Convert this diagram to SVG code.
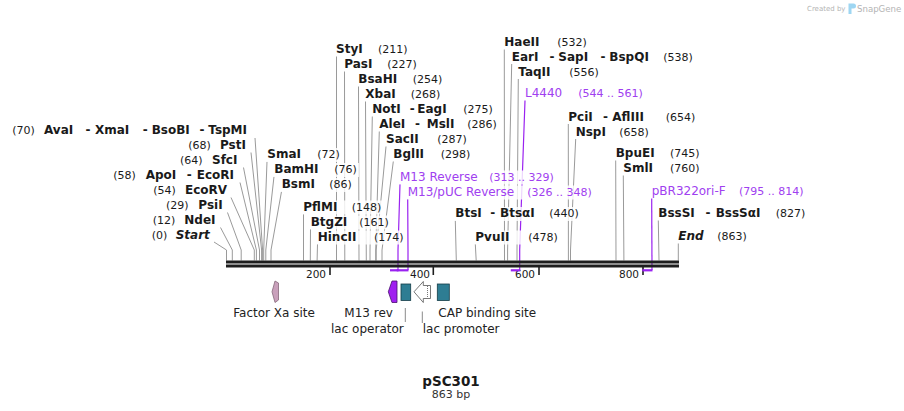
<svg xmlns="http://www.w3.org/2000/svg" width="904" height="411" viewBox="0 0 904 411">
<style>
text{font-family:"DejaVu Sans","Liberation Sans",sans-serif;fill:#1a1a1a}
.n{font-size:12px;font-weight:bold}
.s{font-size:12px;font-weight:bold;font-style:italic}
.d{font-size:12px;font-weight:bold}
.p{font-size:11px}
.pr{font-size:12px;fill:#a040f0}
.prn{font-size:11px;fill:#a040f0}
.f{font-size:12px;fill:#222}
.t{font-size:10.5px}
.ln{fill:none;stroke:#9a9a9a;stroke-width:1}
.pl{fill:none;stroke:#9a22f0;stroke-width:1.2}
.bar{fill:#9a22f0}
.bg{fill:#fff;fill-opacity:0.82}
.dna{fill:#1e1e1e}
.tick{stroke:#1e1e1e;stroke-width:1.6}
.fl{stroke:#8a8a8a;stroke-width:1}
</style>

<!-- watermark -->
<g id="watermark">
<text x="807" y="11" style="font-size:7px;fill:#b4b4b4">Created by</text>
<path d="M848.5,3.5 h5 a2.5,2.5 0 0 1 0,5 h-2 v5.5 h-3 z" fill="#9ed6f2"/>
<text x="857" y="12" style="font-size:8.6px;fill:#b4b4b4">SnapGene</text>
</g>

<!-- connectors -->
<g id="connectors">
<polyline class="ln" points="255,138 262.6,250 262.6,260.5"/>
<polyline class="ln" points="251,152.5 261.6,250 261.6,260.5"/>
<polyline class="ln" points="243.5,167.5 259.5,250 259.5,260.5"/>
<polyline class="ln" points="240,182.5 256.4,250 256.4,260.5"/>
<polyline class="ln" points="231,197.5 254.3,250 254.3,260.5"/>
<polyline class="ln" points="227.5,212.5 241.2,250 241.2,260.5"/>
<polyline class="ln" points="220.5,227.5 232.3,250 232.3,260.5"/>
<polyline class="ln" points="214,242 226.5,250 226.5,260.5"/>
<polyline class="ln" points="267,161.5 263.7,250 263.7,260.5"/>
<polyline class="ln" points="274,176.5 265.8,250 265.8,260.5"/>
<polyline class="ln" points="281.5,191.5 271,250 271,260.5"/>
<polyline class="ln" points="303.5,214 303.5,260.5"/>
<polyline class="ln" points="310.5,229 310.3,260.5"/>
<polyline class="ln" points="317.5,244 317.1,260.5"/>
<polyline class="ln" points="336.5,56.5 336.5,260.5"/>
<polyline class="ln" points="344.5,71.5 344.8,260.5"/>
<polyline class="ln" points="358.5,86.5 359,260.5"/>
<polyline class="ln" points="365.5,101.5 366.3,260.5"/>
<polyline class="ln" points="372.3,116.5 370,250 370,260.5"/>
<polyline class="ln" points="379.3,131.5 375.7,250 375.7,260.5"/>
<polyline class="ln" points="386,146.5 376.2,250 376.2,260.5"/>
<polyline class="ln" points="393.3,161.5 382,250 382,260.5"/>
<polyline class="ln" points="504.3,49.5 504.5,260.5"/>
<polyline class="ln" points="511.7,64 507.6,250 507.6,260.5"/>
<polyline class="ln" points="518.3,79 517,250 517,260.5"/>
<polyline class="ln" points="568.3,124 568.4,260.5"/>
<polyline class="ln" points="575.7,139 570.5,250 570.5,260.5"/>
<polyline class="ln" points="615.7,160.5 616,260.5"/>
<polyline class="ln" points="623.3,175.5 623.9,260.5"/>
<polyline class="ln" points="455.3,220.5 456.3,260.5"/>
<polyline class="ln" points="475.3,244 476.2,260.5"/>
<polyline class="ln" points="658.3,220.5 659,260.5"/>
<polyline class="ln" points="678.3,243.5 678.3,260.5"/>
<polyline class="pl" points="400,184 398,250 398,270"/>
<polyline class="pl" points="407.7,199 408,250 408,270"/>
<polyline class="pl" points="525,100.5 519.7,250 519.7,270"/>
<polyline class="pl" points="651.7,198.5 652,270"/>
<line class="fl" x1="405.3" y1="308" x2="405.3" y2="322"/>
<line class="fl" x1="422.3" y1="311.5" x2="422.3" y2="323"/>
</g>

<!-- label backgrounds -->
<g id="label-backgrounds">
<rect class="bg" x="266" y="148" width="76" height="14"/>
<rect class="bg" x="273" y="163" width="86" height="14"/>
<rect class="bg" x="280.5" y="178" width="73" height="14"/>
<rect class="bg" x="302" y="200.5" width="82" height="14"/>
<rect class="bg" x="309.5" y="215.5" width="81" height="14"/>
<rect class="bg" x="316.5" y="230.5" width="88" height="14"/>
<rect class="bg" x="399" y="170.5" width="158" height="14"/>
<rect class="bg" x="406.7" y="185.5" width="186" height="14"/>
<rect class="bg" x="454" y="207" width="126" height="14"/>
<rect class="bg" x="474" y="230.5" width="84" height="14"/>
</g>

<!-- DNA map -->
<g id="map">
<rect class="dna" x="226" y="260.5" width="453" height="3"/>
<rect class="dna" x="226" y="264.5" width="453" height="3"/>
<line class="tick" x1="330" y1="267" x2="330" y2="275"/>
<line class="tick" x1="433.3" y1="267" x2="433.3" y2="275"/>
<line class="tick" x1="539" y1="267" x2="539" y2="275"/>
<line class="tick" x1="643" y1="267" x2="643" y2="275"/>
<text class="t" x="326" y="277.5" text-anchor="end">200</text>
<text class="t" x="430" y="277.5" text-anchor="end">400</text>
<text class="t" x="535" y="277.5" text-anchor="end">600</text>
<text class="t" x="639" y="277.5" text-anchor="end">800</text>
<rect class="bar" x="390" y="269.2" width="8.5" height="2.2"/>
<rect class="bar" x="396.7" y="269.2" width="11.8" height="2.2"/>
<rect class="bar" x="510.8" y="269.2" width="9.4" height="2.2"/>
<rect class="bar" x="642.2" y="269.2" width="10.3" height="2.2"/>
</g>

<!-- enzyme sites -->
<g id="site-AvaI"><text y="134.3"><tspan class="p" x="12.3">(70)</tspan><tspan class="n" x="44">AvaI</tspan><tspan class="d" x="85.5">-</tspan><tspan class="n" x="95">XmaI</tspan><tspan class="d" x="142.8">-</tspan><tspan class="n" x="151.7">BsoBI</tspan><tspan class="d" x="199.5">-</tspan><tspan class="n" x="208.3">TspMI</tspan></text></g>
<g id="site-PstI"><text y="149.3"><tspan class="p" x="188.3">(68)</tspan><tspan class="n" x="220">PstI</tspan></text></g>
<g id="site-SfcI"><text y="164.3"><tspan class="p" x="180">(64)</tspan><tspan class="n" x="212">SfcI</tspan></text></g>
<g id="site-ApoI"><text y="179.3"><tspan class="p" x="113.3">(58)</tspan><tspan class="n" x="145.7">ApoI</tspan><tspan class="d" x="186.8">-</tspan><tspan class="n" x="196.7">EcoRI</tspan></text></g>
<g id="site-EcoRV"><text y="194.3"><tspan class="p" x="153.3">(54)</tspan><tspan class="n" x="185">EcoRV</tspan></text></g>
<g id="site-PsiI"><text y="209.3"><tspan class="p" x="166">(29)</tspan><tspan class="n" x="198.3">PsiI</tspan></text></g>
<g id="site-NdeI"><text y="224.3"><tspan class="p" x="152.7">(12)</tspan><tspan class="n" x="184.3">NdeI</tspan></text></g>
<g id="site-Start"><text y="239.3"><tspan class="p" x="151.7">(0)</tspan><tspan class="s" x="175.7">Start</tspan></text></g>

<g id="site-SmaI"><text y="158.3"><tspan class="n" x="267.3">SmaI</tspan><tspan class="p" x="317.3">(72)</tspan></text></g>
<g id="site-BamHI"><text y="173.3"><tspan class="n" x="274.3">BamHI</tspan><tspan class="p" x="334.3">(76)</tspan></text></g>
<g id="site-BsmI"><text y="188.3"><tspan class="n" x="281.7">BsmI</tspan><tspan class="p" x="329.3">(86)</tspan></text></g>
<g id="site-PflMI"><text y="210.7"><tspan class="n" x="303.3">PflMI</tspan><tspan class="p" x="351.7">(148)</tspan></text></g>
<g id="site-BtgZI"><text y="225.7"><tspan class="n" x="310.7">BtgZI</tspan><tspan class="p" x="359.3">(161)</tspan></text></g>
<g id="site-HincII"><text y="240.7"><tspan class="n" x="317.7">HincII</tspan><tspan class="p" x="374">(174)</tspan></text></g>

<g id="site-StyI"><text y="53.3"><tspan class="n" x="336">StyI</tspan><tspan class="p" x="378">(211)</tspan></text></g>
<g id="site-PasI"><text y="68.3"><tspan class="n" x="344.3">PasI</tspan><tspan class="p" x="387.3">(227)</tspan></text></g>
<g id="site-BsaHI"><text y="83.3"><tspan class="n" x="358.3">BsaHI</tspan><tspan class="p" x="412.7">(254)</tspan></text></g>
<g id="site-XbaI"><text y="98.3"><tspan class="n" x="365.3">XbaI</tspan><tspan class="p" x="410.7">(268)</tspan></text></g>
<g id="site-NotI"><text y="113.3"><tspan class="n" x="372.3">NotI</tspan><tspan class="d" x="409.7">-</tspan><tspan class="n" x="417.3">EagI</tspan><tspan class="p" x="463.3">(275)</tspan></text></g>
<g id="site-AleI"><text y="128.3"><tspan class="n" x="379.3">AleI</tspan><tspan class="d" x="415">-</tspan><tspan class="n" x="426.7">MslI</tspan><tspan class="p" x="467.3">(286)</tspan></text></g>
<g id="site-SacII"><text y="143.3"><tspan class="n" x="386">SacII</tspan><tspan class="p" x="437.3">(287)</tspan></text></g>
<g id="site-BglII"><text y="158.3"><tspan class="n" x="393.3">BglII</tspan><tspan class="p" x="440.7">(298)</tspan></text></g>

<g id="primer-M13Reverse"><text y="180.7"><tspan class="pr" x="400">M13 Reverse</tspan><tspan class="prn" x="489.3">(313 .. 329)</tspan></text></g>
<g id="primer-M13pUCReverse"><text y="195.7"><tspan class="pr" x="407.7">M13/pUC Reverse</tspan><tspan class="prn" x="527.3">(326 .. 348)</tspan></text></g>

<g id="site-HaeII"><text y="46"><tspan class="n" x="504.3">HaeII</tspan><tspan class="p" x="557.3">(532)</tspan></text></g>
<g id="site-EarI"><text y="60.7"><tspan class="n" x="511.7">EarI</tspan><tspan class="d" x="549.5">-</tspan><tspan class="n" x="558.3">SapI</tspan><tspan class="d" x="600.5">-</tspan><tspan class="n" x="609.3">BspQI</tspan><tspan class="p" x="663.3">(538)</tspan></text></g>
<g id="site-TaqII"><text y="75.7"><tspan class="n" x="518.3">TaqII</tspan><tspan class="p" x="569.3">(556)</tspan></text></g>
<g id="primer-L4440"><text y="97.3"><tspan class="pr" x="525">L4440</tspan><tspan class="prn" x="578.3">(544 .. 561)</tspan></text></g>
<g id="site-PciI"><text y="120.7"><tspan class="n" x="568.3">PciI</tspan><tspan class="d" x="603">-</tspan><tspan class="n" x="612.3">AflIII</tspan><tspan class="p" x="665.7">(654)</tspan></text></g>
<g id="site-NspI"><text y="135.7"><tspan class="n" x="575.7">NspI</tspan><tspan class="p" x="619.3">(658)</tspan></text></g>
<g id="site-BpuEI"><text y="157.3"><tspan class="n" x="615.7">BpuEI</tspan><tspan class="p" x="670">(745)</tspan></text></g>
<g id="site-SmlI"><text y="172.3"><tspan class="n" x="623.3">SmlI</tspan><tspan class="p" x="670">(760)</tspan></text></g>
<g id="primer-pBR322ori-F"><text y="195.3"><tspan class="pr" x="651.7">pBR322ori-F</tspan><tspan class="prn" x="739">(795 .. 814)</tspan></text></g>
<g id="site-BtsI"><text y="217.3"><tspan class="n" x="455.3">BtsI</tspan><tspan class="d" x="490.3">-</tspan><tspan class="n" x="500">BtsαI</tspan><tspan class="p" x="549.3">(440)</tspan></text></g>
<g id="site-PvuII"><text y="240.7"><tspan class="n" x="475.3">PvuII</tspan><tspan class="p" x="528.3">(478)</tspan></text></g>
<g id="site-BssSI"><text y="217.3"><tspan class="n" x="658.3">BssSI</tspan><tspan class="d" x="705.5">-</tspan><tspan class="n" x="715.7">BssSαI</tspan><tspan class="p" x="775.7">(827)</tspan></text></g>
<g id="site-End"><text y="240"><tspan class="s" x="678.3">End</tspan><tspan class="p" x="717.3">(863)</tspan></text></g>

<!-- features -->
<g id="feature-FactorXa">
<polygon points="275,281 278.5,283 278.5,300 275,302.5 272,291.8" fill="#c9a0bb" stroke="#85687a" stroke-width="0.8"/>
<text class="f" x="233.3" y="316.7">Factor Xa site</text>
</g>
<g id="feature-M13rev">
<polygon points="392,281 397,281 397,302.5 392,302.5 388.3,291.8" fill="#a020f0" stroke="#4a1070" stroke-width="0.8"/>
<text class="f" x="344.3" y="316.7">M13 rev</text>
</g>
<g id="feature-lacOperator">
<rect x="401" y="284" width="9.7" height="16.5" fill="#2e7d93" stroke="#163d48" stroke-width="0.8"/>
<text class="f" x="331" y="333.3">lac operator</text>
</g>
<g id="feature-lacPromoter">
<polygon points="414,291.8 423.3,281.5 423.3,285.5 430.5,285.5 430.5,298.5 423.3,298.5 423.3,302.5" fill="#fff" stroke="#555" stroke-width="0.8"/>
<line x1="427.5" y1="286" x2="427.5" y2="298" stroke="#555" stroke-width="0.8" stroke-dasharray="1,1"/>
<text class="f" x="422.7" y="333.3">lac promoter</text>
</g>
<g id="feature-CAP">
<rect x="437.3" y="284" width="12" height="16.5" fill="#2e7d93" stroke="#163d48" stroke-width="0.8"/>
<text class="f" x="438.3" y="316.7">CAP binding site</text>
</g>

<!-- title -->
<g id="title">
<text x="451" y="385.5" text-anchor="middle" style="font-size:13.5px;font-weight:bold">pSC301</text>
<text x="451" y="398" text-anchor="middle" style="font-size:11px;fill:#333">863 bp</text>
</g>
</svg>
